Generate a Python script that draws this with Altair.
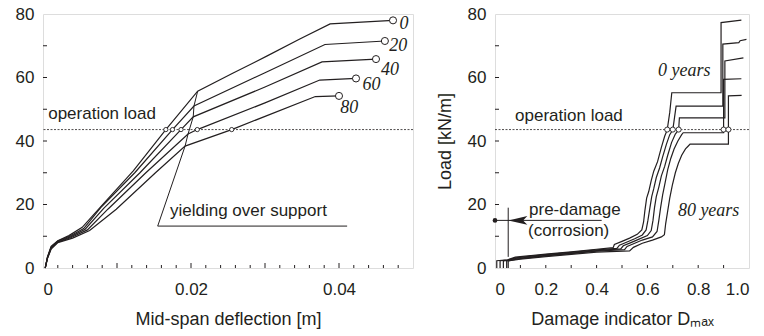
import altair as alt
import pandas as pd

FONT = "Liberation Sans"
SERIF = "Liberation Serif"
INK = "#231f20"

AGES = ["0", "20", "40", "60", "80"]
OP_LOAD = 43.6

# ---------- left panel: mid-span deflection [m] vs load [kN/m] ----------
defl_0 = [0.0003, 0.0006, 0.0011, 0.002, 0.0035, 0.0053, 0.0077, 0.0122, 0.0166, 0.0209, 0.0257, 0.0303, 0.0347, 0.0388, 0.0473]
load_0 = [0, 3.5, 6.8, 8.6, 10.2, 12.8, 19.0, 30.6, 43.6, 55.7, 61.4, 66.8, 72.1, 76.9, 78.0]
defl_20 = [0.0003, 0.0006, 0.0011, 0.002, 0.0036, 0.0055, 0.0078, 0.0124, 0.0175, 0.0204, 0.0300, 0.0381, 0.0462]
load_20 = [0, 3.3, 6.6, 8.5, 10.0, 12.4, 19.0, 30.0, 43.6, 51.0, 61.5, 70.4, 71.5]
defl_40 = [0.0003, 0.0006, 0.0011, 0.002, 0.0037, 0.0057, 0.0082, 0.0131, 0.01865, 0.0203, 0.0300, 0.0377, 0.0450]
load_40 = [0, 3.2, 6.4, 8.3, 9.8, 12.2, 18.8, 30.0, 43.6, 47.6, 57.0, 64.9, 65.8]
defl_60 = [0.0003, 0.0006, 0.0011, 0.002, 0.0038, 0.006, 0.0088, 0.0139, 0.0196, 0.02085, 0.0300, 0.0374, 0.0423]
load_60 = [0, 3.1, 6.2, 8.1, 9.6, 12.0, 18.6, 30.0, 42.2, 43.6, 52.0, 59.2, 59.7]
defl_80 = [0.0003, 0.0006, 0.0011, 0.002, 0.004, 0.0063, 0.0099, 0.0152, 0.0192, 0.0255, 0.0368, 0.0400]
load_80 = [0, 3.0, 6.0, 8.0, 9.4, 11.8, 18.5, 30.0, 38.4, 43.6, 54.0, 54.2]

op_defl = [0.0166, 0.0175, 0.01865, 0.02085, 0.0255]

yield_defl = [0.0209, 0.0204, 0.0203, 0.0196, 0.0192, 0.0155, 0.0411]
yield_load = [55.7, 51.0, 47.6, 42.2, 38.4, 13.2, 13.2]

age_label_x = [0.0488, 0.0480, 0.0469, 0.0444, 0.0414]
age_label_y = [76.7, 69.9, 62.4, 57.6, 50.4]

left_x_minor = [0.002, 0.004, 0.006, 0.008, 0.012, 0.014, 0.016, 0.018, 0.022, 0.024, 0.026, 0.028,
                0.032, 0.034, 0.036, 0.038, 0.042, 0.044, 0.046, 0.048]
left_x_major = [0.01, 0.02, 0.03, 0.04]
left_x_labels = [0, 0.02, 0.04]

# ---------- right panel: damage indicator vs load ----------
dmg_0 = [0.007, 0.007, 0.05, 0.08, 0.2, 0.3, 0.4, 0.465, 0.47, 0.5, 0.53, 0.56, 0.578, 0.585, 0.59, 0.597, 0.605,
         0.615, 0.625, 0.64, 0.655, 0.668, 0.678, 0.688, 0.696, 0.890, 0.890, 0.97]
rload_0 = [0, 2.3, 2.6, 3.4, 4.4, 5.1, 5.9, 6.4, 7.4, 8.4, 9.4, 10.6, 12.0, 14.5, 18, 22, 24, 27.5, 30.5, 33.5,
           38, 41.5, 43.5, 49, 55.2, 55.2, 77.3, 78.1]
dmg_20 = [0.02, 0.02, 0.05, 0.08, 0.2, 0.3, 0.4, 0.48, 0.49, 0.52, 0.55, 0.58, 0.595, 0.602, 0.61, 0.617, 0.625,
          0.635, 0.648, 0.66, 0.675, 0.688, 0.700, 0.707, 0.713, 0.897, 0.897, 0.96, 0.965, 0.99]
rload_20 = [0, 2.3, 2.5, 3.2, 4.2, 4.9, 5.7, 6.2, 7.2, 8.2, 9.2, 10.4, 12, 15, 19, 22.5, 25, 28.5, 31.5, 35,
            39, 42, 43.5, 47.5, 51.0, 51.0, 70.5, 71.0, 71.6, 72.0]
dmg_40 = [0.033, 0.033, 0.05, 0.08, 0.2, 0.3, 0.4, 0.495, 0.505, 0.535, 0.565, 0.60, 0.615, 0.622, 0.628, 0.635,
          0.645, 0.655, 0.668, 0.68, 0.695, 0.71, 0.723, 0.726, 0.905, 0.905, 0.978]
rload_40 = [0, 2.2, 2.4, 3.0, 4.0, 4.7, 5.5, 6.0, 7.0, 8.0, 9.0, 10.2, 11.8, 15, 19, 22.5, 25.5, 29, 32, 35.5,
            39.5, 42.2, 43.5, 47.3, 47.3, 65.2, 66.2]
dmg_60 = [0.046, 0.046, 0.06, 0.09, 0.2, 0.3, 0.4, 0.51, 0.52, 0.55, 0.58, 0.62, 0.638, 0.645, 0.652, 0.66, 0.67,
          0.68, 0.692, 0.705, 0.72, 0.735, 0.741, 0.900, 0.900, 0.97]
rload_60 = [0, 2.2, 2.4, 2.9, 3.8, 4.5, 5.3, 5.8, 6.8, 7.8, 8.8, 9.8, 11.5, 15, 19, 23, 27, 31, 34.5, 37.5,
            40, 42.0, 42.6, 42.6, 59.4, 59.6]
dmg_80 = [0.052, 0.052, 0.065, 0.1, 0.2, 0.3, 0.4, 0.53, 0.545, 0.58, 0.62, 0.655, 0.667, 0.672, 0.68, 0.688,
          0.698, 0.71, 0.722, 0.735, 0.75, 0.762, 0.768, 0.919, 0.919, 0.971]
rload_80 = [0, 2.2, 2.4, 2.8, 3.6, 4.3, 5.0, 5.4, 6.5, 7.8, 8.8, 9.8, 10.5, 14, 18, 22, 26, 30, 33, 35.5,
            37.5, 38.5, 39.0, 39.0, 54.2, 54.4]

op_dmg = [0.678, 0.700, 0.723, 0.900, 0.919]

predamage_dot = [0.0, 15.0]
predamage_arrow_end = [0.42, 15.0]
predamage_marker_d = 0.052
predamage_marker_load = [3.5, 19.0]
arrow_head = [0.09, 15.0]

right_x_ticks = [0.1, 0.2, 0.3, 0.4, 0.5, 0.6, 0.7, 0.8, 0.9]
right_x_labels = [0, 0.2, 0.4, 0.6, 0.8, 1.0]
y_ticks = [10, 20, 30, 40, 50, 60, 70]
y_labels = [0, 20, 40, 60, 80]

# ---------- layout ----------
LW, RW, H = 370, 254, 254


def curves_frame(xs_list, ys_list):
    rows = []
    for age, xs, ys in zip(AGES, xs_list, ys_list):
        for i, (a, b) in enumerate(zip(xs, ys)):
            rows.append({"age": age, "i": i, "x": a, "y": b})
    return pd.DataFrame(rows)


left_df = curves_frame([defl_0, defl_20, defl_40, defl_60, defl_80],
                       [load_0, load_20, load_40, load_60, load_80])
right_df = curves_frame([dmg_0, dmg_20, dmg_40, dmg_60, dmg_80],
                        [rload_0, rload_20, rload_40, rload_60, rload_80])

left_end = pd.DataFrame({"x": [l[-1] for l in [defl_0, defl_20, defl_40, defl_60, defl_80]],
                         "y": [l[-1] for l in [load_0, load_20, load_40, load_60, load_80]]})
left_op = pd.DataFrame({"x": op_defl, "y": [OP_LOAD] * len(op_defl)})
right_op = pd.DataFrame({"x": op_dmg, "y": [OP_LOAD] * len(op_dmg)})
yield_df = pd.DataFrame({"i": list(range(len(yield_defl))), "x": yield_defl, "y": yield_load})
age_df = pd.DataFrame({"t": AGES, "x": age_label_x, "y": age_label_y})

axis_common = dict(ticks=False, domain=False, grid=False, labelFont=FONT, labelFontSize=17,
                   labelColor=INK, titleFont=FONT, titleFontSize=18, titleFontWeight="normal",
                   titleColor=INK)

lx_axis = alt.Axis(values=left_x_labels, labelExpr="datum.value == 0 ? '0' : format(datum.value, '.2f')",
                   labelPadding=13, title="Mid-span deflection [m]", titlePadding=13, **axis_common)
ly_axis = alt.Axis(values=y_labels, labelPadding=9, title=None, **axis_common)
rx_axis = alt.Axis(values=right_x_labels, labelExpr="datum.value == 0 ? '0' : format(datum.value, '.1f')",
                   labelPadding=13, title="Damage indicator Dₘₐₓ", titlePadding=13, **axis_common)
ry_axis = alt.Axis(values=y_labels, labelPadding=9, title="Load [kN/m]", titlePadding=13, **axis_common)

lxs = alt.Scale(domain=[0, 0.05], nice=False, zero=False)
rxs = alt.Scale(domain=[0, 1.0], nice=False, zero=False)
ys = alt.Scale(domain=[0, 80], nice=False)


def LX(f="x"):
    return alt.X(f, type="quantitative", scale=lxs, axis=lx_axis)


def RX(f="x"):
    return alt.X(f, type="quantitative", scale=rxs, axis=rx_axis)


def LY(f="y"):
    return alt.Y(f, type="quantitative", scale=ys, axis=ly_axis)


def RY(f="y"):
    return alt.Y(f, type="quantitative", scale=ys, axis=ry_axis)


def tick_layers(X, Y, xminor, xmajor):
    layers = []
    layers.append(alt.Chart(pd.DataFrame({"x": xminor})).mark_rule(color=INK, strokeWidth=1)
                  .encode(x=X(), y=alt.value(H), y2=alt.value(H - 3)))
    if xmajor:
        layers.append(alt.Chart(pd.DataFrame({"x": xmajor})).mark_rule(color=INK, strokeWidth=1)
                      .encode(x=X(), y=alt.value(H), y2=alt.value(H - 5)))
    layers.append(alt.Chart(pd.DataFrame({"y": y_ticks})).mark_rule(color=INK, strokeWidth=1)
                  .encode(y=Y(), x=alt.value(0), x2=alt.value(4)))
    return layers


# ----- left chart -----
l_lines = alt.Chart(left_df).mark_line(color=INK, strokeWidth=1.2).encode(
    x=LX(), y=LY(), detail="age:N", order="i:Q")
l_opline = alt.Chart(pd.DataFrame({"y": [OP_LOAD]})).mark_rule(
    color=INK, strokeWidth=0.8, strokeDash=[2, 1.5]).encode(y=LY())
l_yield = alt.Chart(yield_df).mark_line(color=INK, strokeWidth=1).encode(x=LX(), y=LY(), order="i:Q")
l_op = alt.Chart(left_op).mark_point(shape="circle", filled=True, fill="white", stroke=INK,
                                     strokeWidth=0.9, size=18, opacity=1).encode(x=LX(), y=LY())
l_end = alt.Chart(left_end).mark_point(shape="circle", filled=True, fill="white", stroke=INK,
                                       strokeWidth=1, size=50, opacity=1).encode(x=LX(), y=LY())
l_age = alt.Chart(age_df).mark_text(font=SERIF, fontStyle="italic", fontSize=18, color=INK,
                                    align="center", baseline="middle").encode(x=LX(), y=LY(), text="t:N")
l_text = alt.Chart(pd.DataFrame({"t": ["operation load", "yielding over support"],
                                 "x": [0.0007, 0.01716], "y": [48.5, 18.0]})).mark_text(
    font=FONT, fontSize=17, color=INK, align="left", baseline="middle").encode(x=LX(), y=LY(), text="t:N")

left = alt.layer(l_opline, l_lines, l_yield, l_op, l_end, l_age, l_text,
                 *tick_layers(LX, LY, left_x_minor, left_x_major)).properties(width=LW, height=H)

# ----- right chart -----
r_lines = alt.Chart(right_df).mark_line(color=INK, strokeWidth=1.2).encode(
    x=RX(), y=RY(), detail="age:N", order="i:Q")
r_opline = alt.Chart(pd.DataFrame({"y": [OP_LOAD]})).mark_rule(
    color=INK, strokeWidth=0.8, strokeDash=[2, 1.5]).encode(y=RY())
r_op = alt.Chart(right_op).mark_point(shape="circle", filled=True, fill="white", stroke=INK,
                                      strokeWidth=0.9, size=26, opacity=1).encode(x=RX(), y=RY())
pre_h = alt.Chart(pd.DataFrame({"x": [predamage_dot[0]], "x2": [predamage_arrow_end[0]],
                                "y": [predamage_dot[1]]})).mark_rule(color=INK, strokeWidth=1).encode(
    x=RX(), x2="x2:Q", y=RY())
pre_v = alt.Chart(pd.DataFrame({"x": [predamage_marker_d], "y": [predamage_marker_load[0]],
                                "y2": [predamage_marker_load[1]]})).mark_rule(color=INK, strokeWidth=1).encode(
    x=RX(), y=RY(), y2="y2:Q")
pre_dot = alt.Chart(pd.DataFrame({"x": [predamage_dot[0]], "y": [predamage_dot[1]]})).mark_point(
    shape="circle", filled=True, color=INK, size=22, opacity=1).encode(x=RX(), y=RY())
pre_arrow = alt.Chart(pd.DataFrame({"x": [arrow_head[0]], "y": [arrow_head[1]]})).mark_point(
    shape="M-1,0L1,-0.45L0.55,0L1,0.45Z", filled=True, color=INK, size=360, opacity=1).encode(x=RX(), y=RY())
r_text = alt.Chart(pd.DataFrame({"t": ["operation load", "pre-damage", "(corrosion)"],
                                 "x": [0.079, 0.134, 0.130], "y": [47.9, 18.3, 11.6]})).mark_text(
    font=FONT, fontSize=17, color=INK, align="left", baseline="middle").encode(x=RX(), y=RY(), text="t:N")
r_years = alt.Chart(pd.DataFrame({"t": ["0 years", "80 years"], "x": [0.642, 0.72], "y": [62.0, 18.0]})).mark_text(
    font=SERIF, fontStyle="italic", fontSize=18, color=INK, align="left", baseline="middle").encode(
    x=RX(), y=RY(), text="t:N")

right = alt.layer(r_opline, r_lines, r_op, pre_h, pre_v, pre_dot, pre_arrow, r_text, r_years,
                  *tick_layers(RX, RY, right_x_ticks, None)).properties(width=RW, height=H)

chart = alt.hconcat(left, right, spacing=82, bounds="flush").properties(
    padding={"left": 14, "top": 4, "right": 5, "bottom": 2}
).configure_view(stroke=INK, strokeWidth=1).configure(background="white")

chart.save("out.html", embed_options={"renderer": "svg", "actions": False})
